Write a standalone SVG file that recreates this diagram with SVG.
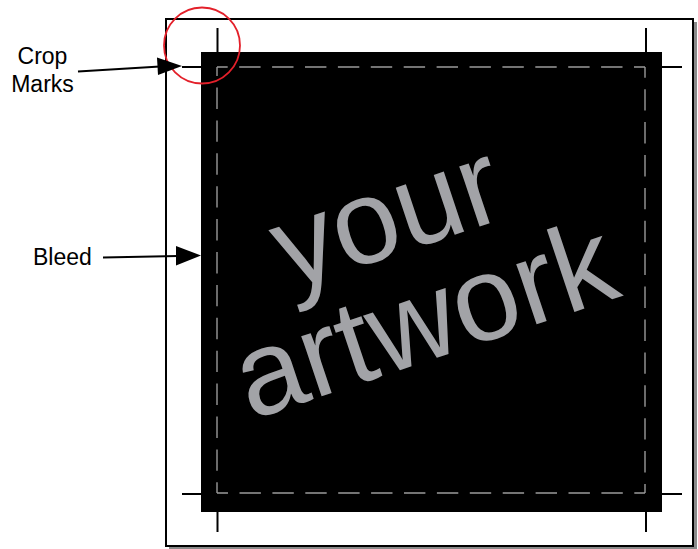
<svg xmlns="http://www.w3.org/2000/svg" width="698" height="549" viewBox="0 0 698 549">
<style>
.lbl{font-family:"Liberation Sans",Arial,sans-serif;font-size:23px;fill:#000}
.crop{stroke:#000;stroke-width:2;fill:none}
.dash{stroke:#9a9a9a;stroke-width:1.4;fill:none;stroke-dasharray:21.4 11.5;stroke-dashoffset:10.7}
.art{font-family:"Liberation Sans",Arial,sans-serif;font-size:120px;fill:#a2a3a7;text-anchor:middle}
.arr{stroke:#000;stroke-width:2;fill:none}
</style>
<rect width="698" height="549" fill="#fff"/>
<g id="page">
<rect x="169" y="22" width="528" height="528" fill="#8a8a8a"/>
<rect x="166" y="19" width="527" height="527" fill="#fff" stroke="#000" stroke-width="2"/>
</g>
<g id="artwork">
<rect x="201" y="52" width="461" height="460" fill="#000"/>
<line class="dash" x1="217" y1="67" x2="645" y2="67"/>
<line class="dash" x1="645" y1="67" x2="645" y2="493"/>
<line class="dash" x1="645" y1="493" x2="217" y2="493"/>
<line class="dash" x1="217" y1="493" x2="217" y2="67"/>
<g transform="translate(399,253.5) rotate(-18.5)">
<text class="art" x="0" y="0">your</text>
<text class="art" x="3" y="111">artwork</text>
</g>
</g>
<g id="crop-marks">
<line class="crop" x1="217.5" y1="28" x2="217.5" y2="52"/>
<line class="crop" x1="182" y1="67" x2="201" y2="67"/>
<line class="crop" x1="646" y1="28" x2="646" y2="52"/>
<line class="crop" x1="662" y1="67" x2="682" y2="67"/>
<line class="crop" x1="182" y1="494" x2="201" y2="494"/>
<line class="crop" x1="217.5" y1="512" x2="217.5" y2="532"/>
<line class="crop" x1="662" y1="494" x2="682" y2="494"/>
<line class="crop" x1="646" y1="512" x2="646" y2="532"/>
</g>
<g id="highlight">
<circle cx="202" cy="45.5" r="38" fill="none" stroke="#e3202a" stroke-width="1.8"/>
</g>
<g id="label-crop">
<text class="lbl" x="42.5" y="64" text-anchor="middle">Crop</text>
<text class="lbl" x="42.5" y="92" text-anchor="middle">Marks</text>
</g>
<g id="label-bleed">
<text class="lbl" x="33" y="265">Bleed</text>
</g>
<g id="connectors">
<line class="arr" x1="78" y1="71.5" x2="160" y2="66.5"/>
<polygon points="182,66 157,57.5 158,75" fill="#000"/>
<line class="arr" x1="103" y1="257.5" x2="178" y2="256"/>
<polygon points="201,255.5 176,246 176,265.5" fill="#000"/>
</g>
</svg>
